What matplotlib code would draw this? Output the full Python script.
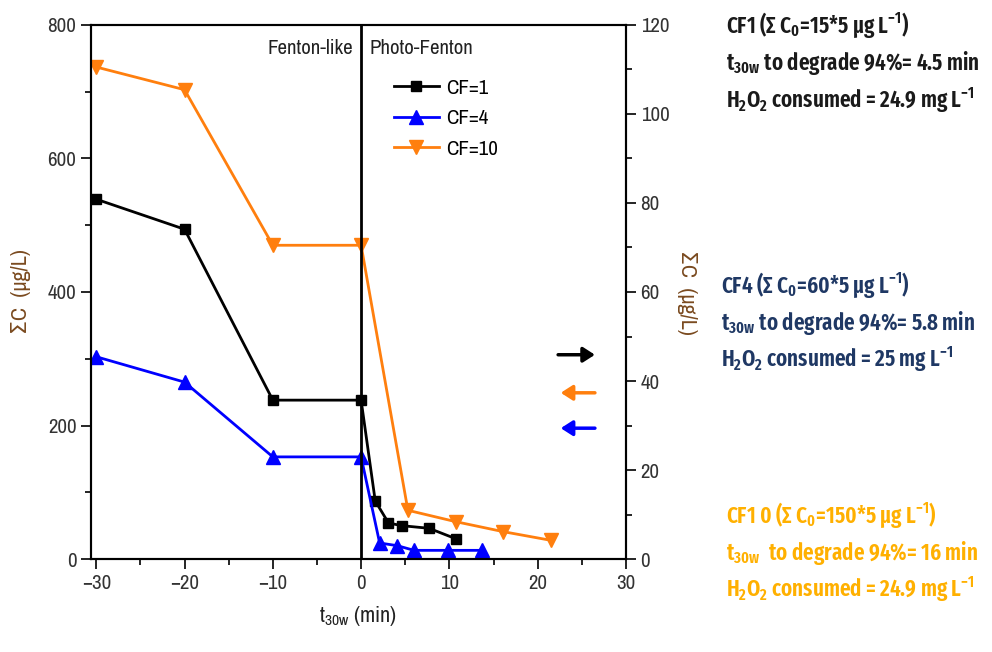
import numpy as np
import matplotlib.pyplot as plt
from matplotlib.ticker import MultipleLocator

# data (t30w in min, sum C in ug/L)
t_cf1 = [-30, -20, -10, 0, 1.6, 3.1, 4.6, 7.7, 10.8]
c_cf1 = [539, 494, 238, 238, 87, 54, 50, 46, 30]

t_cf4 = [-30, -20, -10, 0, 2.1, 4.1, 6.0, 9.8, 13.7]
c_cf4 = [303, 265, 153, 153, 24, 20, 13, 13, 13]

t_cf10 = [-30, -20, -10, 0, 5.3, 10.7, 16.1, 21.5]
c_cf10 = [737, 703, 470, 470, 73, 56, 41, 28]

series_labels = ["CF=1", "CF=4", "CF=10"]
series_colors = ["black", "#0000ff", "#ff7f0e"]
series_markers = ["s", "^", "v"]

# arrows next to the right axis: y position (left-axis units) and direction
arrow_y = [306, 196, 249]
arrow_dir = [1, -1, -1]

side_notes = [
    ["CF1 (\u03a3 C$\\mathregular{_0}$=15*5 \u03bcg L$\\mathregular{^{-1}}$)",
     "t$\\mathregular{_{30w}}$ to degrade 94%= 4.5 min",
     "H$\\mathregular{_2}$O$\\mathregular{_2}$ consumed = 24.9 mg L$\\mathregular{^{-1}}$"],
    ["CF4 (\u03a3 C$\\mathregular{_0}$=60*5 \u03bcg L$\\mathregular{^{-1}}$)",
     "t$\\mathregular{_{30w}}$ to degrade 94%= 5.8 min",
     "H$\\mathregular{_2}$O$\\mathregular{_2}$ consumed = 25 mg L$\\mathregular{^{-1}}$"],
    ["CF1 0 (\u03a3 C$\\mathregular{_0}$=150*5 \u03bcg L$\\mathregular{^{-1}}$)",
     "t$\\mathregular{_{30w}}$  to degrade 94%= 16 min",
     "H$\\mathregular{_2}$O$\\mathregular{_2}$ consumed = 24.9 mg L$\\mathregular{^{-1}}$"],
]
note_colors = ["#1a1a1a", "#1f3864", "#ffb000"]

plt.rcParams['font.family'] = ['Archivo Narrow', 'DejaVu Sans']
note_font = ['Fira Sans Extra Condensed', 'Open Sans Condensed', 'DejaVu Sans']
tick_col = "#333333"
label_col = "#7a4a1f"

fig = plt.figure(figsize=(9.92, 6.52), dpi=100)
ax = fig.add_axes([0.0917, 0.1426, 0.5393, 0.8191])

data = [(t_cf1, c_cf1), (t_cf4, c_cf4), (t_cf10, c_cf10)]
for (t, c), lab, col, mk in zip(data, series_labels, series_colors, series_markers):
    ms = 7 if mk == "s" else 10
    ax.plot(t, c, color=col, marker=mk, markersize=ms, linewidth=2, label=lab)

ax.axvline(0, color="black", linewidth=2)
ax.set_xlim(-30.6, 30)
ax.set_ylim(0, 800)
ax.xaxis.set_major_locator(MultipleLocator(10))
ax.xaxis.set_minor_locator(MultipleLocator(5))
ax.yaxis.set_major_locator(MultipleLocator(200))
ax.yaxis.set_minor_locator(MultipleLocator(100))
ax.tick_params(which="both", direction="out", color="black", width=1.2,
               labelsize=15, labelcolor=tick_col)
ax.tick_params(which="major", length=7)
ax.tick_params(which="minor", length=4)
for s in ax.spines.values():
    s.set_linewidth(1.5)

ax.set_xlabel("t$\\mathregular{_{30w}}$ (min)", fontsize=16, color="#222222", labelpad=8)
ax.set_ylabel("\u03a3C  (\u03bcg/L)", fontsize=16, color=label_col, labelpad=12)

ax2 = ax.twinx()
ax2.set_ylim(0, 120)
ax2.yaxis.set_major_locator(MultipleLocator(20))
ax2.yaxis.set_minor_locator(MultipleLocator(10))
ax2.tick_params(which="both", direction="out", width=1.2, labelsize=15, labelcolor=tick_col)
ax2.tick_params(which="major", length=7)
ax2.tick_params(which="minor", length=4)
ax2.set_ylabel("\u03a3C  (\u03bcg/L)", fontsize=16, color=label_col, rotation=-90, labelpad=20)
for s in ax2.spines.values():
    s.set_linewidth(1.5)

ax.text(-0.9, 765, "Fenton-like", ha="right", va="center", fontsize=15, color="#222222")
ax.text(0.9, 765, "Photo-Fenton", ha="left", va="center", fontsize=15, color="#222222")

ax.legend(loc="upper left", bbox_to_anchor=(0.55, 0.915), frameon=False, fontsize=15,
          handlelength=2.2, handletextpad=0.3, labelspacing=0.55, borderaxespad=0)

for y, d, col in zip(arrow_y, arrow_dir, series_colors):
    x0, x1 = (22.0, 26.8) if d > 0 else (26.8, 22.3)
    ax.annotate("", xy=(x1, y), xytext=(x0, y),
                arrowprops=dict(arrowstyle="-|>,head_length=0.7,head_width=0.45",
                                color=col, lw=2.5))

note_y = [0.949, 0.551, 0.198]
note_x = [0.732, 0.727, 0.732]
for block, col, x0, y0 in zip(side_notes, note_colors, note_x, note_y):
    for i, line in enumerate(block):
        fig.text(x0, y0 - i * 0.057, line, ha="left", va="baseline", fontsize=16.5,
                 fontweight="semibold", color=col, family=note_font)

fig.savefig("out.png", dpi=100)
